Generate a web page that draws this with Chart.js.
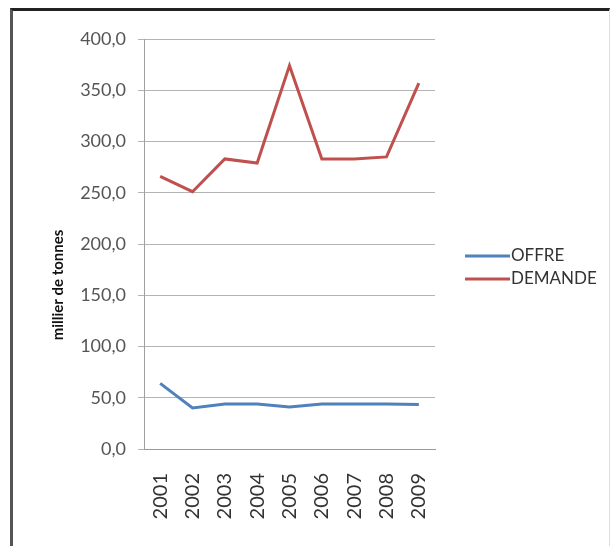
<!DOCTYPE html>
<html lang="fr">
<head>
  <meta charset="UTF-8">
  <title>Offre et demande</title>
  <script src="https://cdn.jsdelivr.net/npm/chart.js"></script>
  <style>
    body {
      margin: 0;
      background: #fff;
      width: 613px;
      height: 546px;
      overflow: hidden;
      position: relative;
    }
    #frame {
      position: absolute;
      left: 10px;
      top: 8px;
      width: 596px;
      height: 560px;
      border-top: 3px solid #222;
      border-left: 3px solid #555;
      border-right: 1px solid #ddd;
    }
    #wrap {
      position: absolute;
      left: 0;
      top: 0;
      width: 613px;
      height: 546px;
    }
  </style>
</head>
<body>
  <div id="frame"></div>
  <div id="wrap"><canvas id="chart" width="613" height="546"></canvas></div>

  <script>
    // data
    const years = ['2001', '2002', '2003', '2004', '2005', '2006', '2007', '2008', '2009'];
    const offre = [64, 40, 44, 44, 41, 44, 44, 44, 43.5];
    const demande = [266, 251, 283, 279, 374, 283, 283, 285, 357];
    const seriesNames = ['OFFRE', 'DEMANDE'];
    const seriesColors = ['#4F81BD', '#C0504D'];
    const yTicks = [0, 50, 100, 150, 200, 250, 300, 350, 400];
    const yTitle = 'millier de tonnes';

    // y-axis title and legend drawn by hand so they sit where the original has them
    const extras = {
      id: 'extras',
      afterDraw(chart) {
        const c = chart.ctx;
        c.save();
        c.translate(58, 285);
        c.rotate(-Math.PI / 2);
        c.font = 'bold 15px Lato';
        c.fillStyle = '#111';
        c.textAlign = 'center';
        c.textBaseline = 'middle';
        c.fillText(yTitle, 0, 0);
        c.restore();

        c.save();
        c.font = '17px Lato';
        c.textBaseline = 'middle';
        c.textAlign = 'left';
        chart.data.datasets.forEach((ds, i) => {
          const y = 256 + i * 23;
          c.strokeStyle = ds.borderColor;
          c.lineWidth = 3;
          c.beginPath();
          c.moveTo(465, y);
          c.lineTo(510, y);
          c.stroke();
          c.fillStyle = '#333';
          c.fillText(ds.label, 511, y);
        });
        c.restore();
      }
    };

    new Chart(document.getElementById('chart'), {
      type: 'line',
      data: {
        labels: years,
        datasets: [
          { label: seriesNames[0], data: offre, borderColor: seriesColors[0], backgroundColor: seriesColors[0] },
          { label: seriesNames[1], data: demande, borderColor: seriesColors[1], backgroundColor: seriesColors[1] }
        ]
      },
      options: {
        responsive: false,
        animation: false,
        devicePixelRatio: 1,
        layout: { padding: { left: 0, top: 39, right: 178, bottom: 0 } },
        elements: {
          line: { borderWidth: 3, tension: 0 },
          point: { radius: 0 }
        },
        plugins: {
          legend: { display: false },
          tooltip: { enabled: false }
        },
        scales: {
          x: {
            offset: true,
            grid: { display: false, drawTicks: false },
            border: { display: true, color: '#9a9a9a', width: 1 },
            ticks: {
              color: '#333',
              font: { family: 'Lato', size: 20 },
              minRotation: 90,
              maxRotation: 90,
              padding: 24
            },
            afterFit(scale) { scale.height = 97; }
          },
          y: {
            min: 0,
            max: 400,
            afterBuildTicks(scale) { scale.ticks = yTicks.map(v => ({ value: v })); },
            grid: { color: '#b4b4b4', lineWidth: 1, tickLength: 6 },
            border: { display: true, color: '#a0a0a0', width: 1 },
            ticks: {
              color: '#555',
              font: { family: 'Lato', size: 18 },
              padding: 12,
              callback: v => v.toFixed(1).replace('.', ',')
            },
            afterFit(scale) { scale.width = 144; }
          }
        }
      },
      plugins: [extras]
    });
  </script>
</body>
</html>
